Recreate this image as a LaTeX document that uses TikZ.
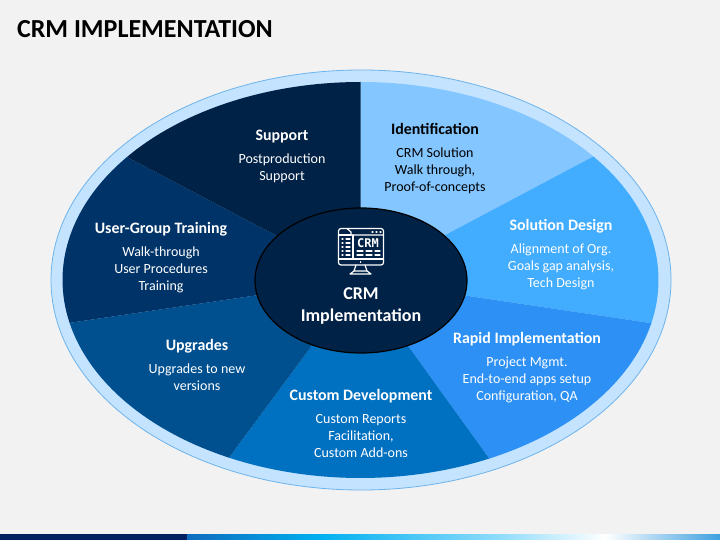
\documentclass[tikz,border=0pt]{standalone}
\usepackage{fontspec}
\setmainfont{Carlito}
\newfontfamily\iconfont{DejaVu Sans Mono}
\definecolor{fondo}{HTML}{F2F2F2}
\definecolor{anillo}{HTML}{C4E3FF}
\definecolor{bordeanillo}{HTML}{6DB3EC}
\definecolor{sectorA}{HTML}{84C6FF}
\definecolor{sectorB}{HTML}{42ACFF}
\definecolor{sectorC}{HTML}{2D90F5}
\definecolor{sectorD}{HTML}{0070C0}
\definecolor{sectorE}{HTML}{00508F}
\definecolor{sectorF}{HTML}{003468}
\definecolor{sectorG}{HTML}{002247}
\definecolor{barraA}{HTML}{002060}
\definecolor{barraB}{HTML}{0F6CBD}
\definecolor{barraC}{HTML}{00B0F0}
\definecolor{barraD}{HTML}{8FDCFB}
\definecolor{barraE}{HTML}{3EA0E0}
\tikzset{
  etiqueta/.style={align=center,text=white,font=\fontsize{14}{17}\selectfont},
  icono/.style={draw=white,line width=1.2pt,line join=round,line cap=round}
}
\newcommand{\cabeza}[1]{{\fontsize{15.9}{17}\selectfont\bfseries #1}\\[6pt]}
\begin{document}
\begin{tikzpicture}[x=1pt,y=-1pt]
\useasboundingbox (0,0) rectangle (720,540);
% Fondo de la diapositiva
\fill[fondo] (0,0) rectangle (720,540);

% Barra inferior
\fill[barraA] (0,534) rectangle (187,540);
\shade[left color=barraB,right color=barraC] (187,534) rectangle (320,540);
\shade[left color=barraC,right color=barraD] (320,534) rectangle (500,540);
\shade[left color=barraD,right color=white] (500,534) rectangle (605,540);
\shade[left color=white,right color=barraE] (605,534) rectangle (720,540);

% Titulo
\node[anchor=west,font=\fontsize{26}{30}\selectfont\bfseries] (titulo) at (13.5,29) {CRM IMPLEMENTATION};

% Anillo exterior
\draw[bordeanillo,fill=anillo,line width=0.8pt] (361,280) ellipse [x radius=310,y radius=210];

% Los siete sectores, con el angulo de cada borde
\fill[sectorA] (360.5,280) -- ++(-90:298 and 198) arc (-90:-38.6:298 and 198) -- cycle;
\fill[sectorB] (360.5,280) -- ++(-38.6:298 and 198) arc (-38.6:12.6:298 and 198) -- cycle;
\fill[sectorC] (360.5,280) -- ++(12.6:298 and 198) arc (12.6:64.4:298 and 198) -- cycle;
\fill[sectorD] (360.5,280) -- ++(64.4:298 and 198) arc (64.4:116.2:298 and 198) -- cycle;
\fill[sectorE] (360.5,280) -- ++(116.2:298 and 198) arc (116.2:167.5:298 and 198) -- cycle;
\fill[sectorF] (360.5,280) -- ++(167.5:298 and 198) arc (167.5:218.4:298 and 198) -- cycle;
\fill[sectorG] (360.5,280) -- ++(218.4:298 and 198) arc (218.4:270:298 and 198) -- cycle;

% Elipse central
\draw[black,fill=sectorG,line width=1.2pt] (361,280.5) ellipse [x radius=106,y radius=72.5];

% Icono del monitor
\draw[icono] (338.5,231) arc (180:270:2.5) -- (381,228.5) arc (270:360:2.5) -- (383.5,262.5) arc (0:90:2.5) -- (341,265) arc (90:180:2.5) -- cycle;
\draw[icono] (347,228.5) -- (351,232) -- (351,235) -- (383.5,235);
\draw[icono] (338.5,235) -- (351,235);
\draw[icono] (353,235) -- (353,259);
\draw[icono] (338.5,259) -- (383.5,259);
\draw[icono] (342,239) -- (343,239) (346,239) -- (350,239) (342,243) -- (343,243) (346,243) -- (350,243) (342,247) -- (343,247) (346,247) -- (350,247) (342,251) -- (343,251) (346,251) -- (350,251) (342,255) -- (343,255) (346,255) -- (350,255);
\draw[icono] (357,251) -- (363,251) (366,251) -- (372,251) (375,251) -- (380,251);
\draw[icono] (357,255) -- (363,255) (366,255) -- (372,255) (375,255) -- (380,255);
\draw[icono] (372,232) -- (373,232) (376,232) -- (377,232) (380,232) -- (381,232);
\draw[icono] (360.5,262) -- (360.7,262);
\draw[icono] (356,265) -- (354,271) -- (367,271) -- (365,265);
\draw[icono] (350,274) -- (371,274) (350,274) -- (354,271) (371,274) -- (367,271);
\node[text=white,inner sep=0pt,font=\iconfont\fontsize{12}{12}\selectfont\bfseries] (iconotexto) at (368,243) {CRM};

% Textos
\node[etiqueta,font=\fontsize{18}{22}\selectfont\bfseries] (centro) at (361,306) {CRM\\Implementation};
\node[etiqueta,text=black] (identificacion) at (435,158.5) {\cabeza{Identification}CRM Solution\\Walk through,\\Proof-of-concepts};
\node[etiqueta] (solucion) at (561,254.5) {\cabeza{Solution Design}Alignment of Org.\\Goals gap analysis,\\Tech Design};
\node[etiqueta] (rapida) at (527,368) {\cabeza{Rapid Implementation}Project Mgmt.\\End-to-end apps setup\\Configuration, QA};
\node[etiqueta] (desarrollo) at (361,423.5) {\cabeza{Custom Development}Custom Reports\\Facilitation,\\Custom Add-ons};
\node[etiqueta] (mejoras) at (197,364.5) {\cabeza{Upgrades}Upgrades to new\\versions};
\node[etiqueta] (formacion) at (161,258) {\cabeza{User-Group Training}Walk-through\\User Procedures\\Training};
\node[etiqueta] (soporte) at (282,156) {\cabeza{Support}Postproduction\\Support};
\end{tikzpicture}
\end{document}
